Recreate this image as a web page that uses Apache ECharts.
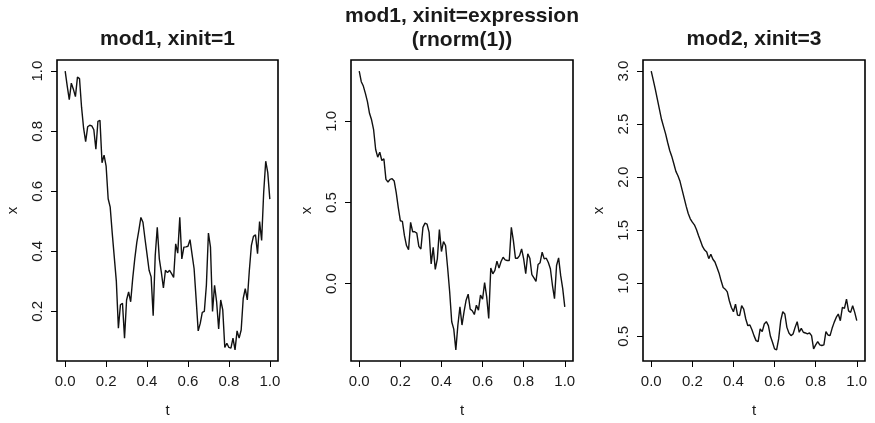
<!DOCTYPE html>
<html><head><meta charset="utf-8">
<script src="https://cdn.jsdelivr.net/npm/echarts@6/dist/echarts.min.js"></script>
<style>html,body{margin:0;padding:0;background:#fff}#c{width:875px;height:423px}</style>
</head><body><div id="c"></div>
<script>
// ---- data ----
const titles = ['mod1, xinit=1', 'mod1, xinit=expression\n(rnorm(1))', 'mod2, xinit=3'];
const xName = 't';
const yName = 'x';
const xTicks = [0.0, 0.2, 0.4, 0.6, 0.8, 1.0];
const yTicks1 = [0.2, 0.4, 0.6, 0.8, 1.0];
const yTicks2 = [0.0, 0.5, 1.0];
const yTicks3 = [0.5, 1.0, 1.5, 2.0, 2.5, 3.0];

const mod1x1 = [1.00,0.95,0.905,0.96,0.94,0.915,0.98,0.975,0.88,0.81,
 0.765,0.815,0.82,0.818,0.805,0.74,0.833,0.836,0.695,0.72,
 0.684,0.575,0.547,0.46,0.38,0.30,0.144,0.222,0.227,0.111,
 0.238,0.265,0.232,0.31,0.375,0.43,0.47,0.513,0.497,0.442,
 0.39,0.337,0.315,0.186,0.386,0.48,0.375,0.33,0.278,0.337,
 0.329,0.337,0.326,0.313,0.425,0.394,0.513,0.375,0.414,0.415,
 0.417,0.439,0.39,0.342,0.24,0.135,0.16,0.197,0.2,0.287,
 0.461,0.414,0.2,0.287,0.232,0.142,0.238,0.205,0.08,0.094,
 0.08,0.078,0.111,0.072,0.135,0.111,0.138,0.243,0.276,0.238,
 0.337,0.42,0.45,0.455,0.392,0.499,0.436,0.596,0.70,0.662,
 0.574];

const mod1rn = [1.31,1.245,1.218,1.173,1.122,1.05,1.01,0.949,0.827,0.78,
 0.81,0.759,0.769,0.643,0.627,0.643,0.647,0.633,0.561,0.469,
 0.388,0.384,0.296,0.235,0.21,0.378,0.32,0.32,0.312,0.23,
 0.214,0.347,0.373,0.367,0.316,0.122,0.224,0.088,0.153,0.333,
 0.198,0.259,0.235,0.10,-0.05,-0.235,-0.28,-0.408,-0.255,-0.143,
 -0.255,-0.173,-0.102,-0.065,-0.157,-0.167,-0.19,-0.133,-0.163,-0.071,
 -0.096,0.006,-0.08,-0.214,0.096,0.061,0.082,0.139,0.096,0.137,
 0.163,0.147,0.143,0.143,0.347,0.265,0.157,0.157,0.173,0.214,
 0.153,0.061,0.184,0.157,0.055,0.035,0.014,0.118,0.129,0.194,
 0.153,0.157,0.13,0.092,-0.01,-0.092,0.112,0.159,0.051,-0.031,
 -0.143];

const mod2x3 = [3.0,2.916,2.828,2.734,2.64,2.546,2.477,2.409,2.327,2.252,
 2.196,2.127,2.055,2.014,1.961,1.883,1.805,1.727,1.658,1.608,
 1.576,1.551,1.507,1.451,1.398,1.345,1.313,1.295,1.232,1.273,
 1.226,1.2,1.148,1.095,1.023,0.96,0.944,0.919,0.835,0.772,
 0.731,0.803,0.7,0.694,0.788,0.757,0.663,0.6,0.606,0.562,
 0.506,0.459,0.45,0.569,0.544,0.616,0.638,0.6,0.5,0.444,
 0.381,0.372,0.475,0.647,0.731,0.71,0.584,0.531,0.506,0.522,
 0.584,0.638,0.538,0.575,0.538,0.531,0.522,0.531,0.506,0.381,
 0.419,0.45,0.419,0.413,0.419,0.544,0.512,0.506,0.575,0.631,
 0.678,0.71,0.647,0.772,0.763,0.85,0.74,0.725,0.788,0.725,
 0.647];

// ---- layout ----
const panels = [
  {data: mod1x1, yTicks: yTicks1, left: 57, width: 221},
  {data: mod1rn, yTicks: yTicks2, left: 351, width: 222},
  {data: mod2x3, yTicks: yTicks3, left: 643, width: 222}
];
const TOP = 60, HEIGHT = 302.5;
const FONT = '"Liberation Sans", Arial, Helvetica, sans-serif';
const TXT = '#1a1a1a';

function ext(lo, hi) { const r = hi - lo; return [lo - 0.04 * r, hi + 0.04 * r]; }

const grid = [], xAxis = [], yAxis = [], series = [], title = [];
panels.forEach((p, i) => {
  const n = p.data.length;
  const pts = p.data.map((v, k) => [k / (n - 1), v]);
  const yr = ext(Math.min(...p.data), Math.max(...p.data));
  const xr = ext(0, 1);
  grid.push({left: p.left, top: TOP, width: p.width, height: HEIGHT,
    show: true, borderColor: '#000', borderWidth: 1.6, backgroundColor: 'transparent'});
  xAxis.push({type: 'value', gridIndex: i, min: xr[0], max: xr[1], position: 'bottom',
    axisLine: {show: false, onZero: false}, splitLine: {show: false},
    axisTick: {show: true, length: 6, lineStyle: {color: '#000', width: 1}, customValues: xTicks},
    axisLabel: {customValues: xTicks, formatter: v => v.toFixed(1), color: TXT, fontSize: 15, fontFamily: FONT, margin: 13},
    name: xName, nameLocation: 'middle', nameGap: 42,
    nameTextStyle: {color: TXT, fontSize: 15, fontFamily: FONT}});
  yAxis.push({type: 'value', gridIndex: i, min: yr[0], max: yr[1], position: 'left',
    axisLine: {show: false, onZero: false}, splitLine: {show: false},
    axisTick: {show: true, length: 6, lineStyle: {color: '#000', width: 1}, customValues: p.yTicks},
    axisLabel: {customValues: p.yTicks, formatter: v => v.toFixed(1), rotate: 90, color: TXT, fontSize: 15, fontFamily: FONT, margin: 12},
    name: yName, nameLocation: 'middle', nameGap: 37,
    nameTextStyle: {color: TXT, fontSize: 15, fontFamily: FONT}});
  series.push({type: 'line', xAxisIndex: i, yAxisIndex: i, data: pts,
    showSymbol: false, symbol: 'none', lineStyle: {color: '#111', width: 1.4}, silent: true});
  const two = titles[i].indexOf('\n') >= 0;
  title.push({text: titles[i], left: p.left + p.width / 2, top: two ? 4 : 27, textAlign: 'center', padding: 0,
    textStyle: {fontSize: 21, fontWeight: 'bold', fontFamily: FONT, color: TXT, lineHeight: 24}});
});

const chart = echarts.init(document.getElementById('c'), null, {renderer: 'canvas'});
chart.setOption({animation: false, backgroundColor: '#fff', title, grid, xAxis, yAxis, series});
</script></body></html>
